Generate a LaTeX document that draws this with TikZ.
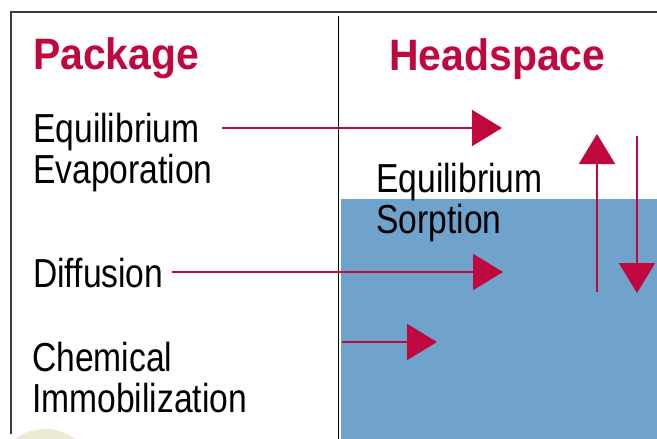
\documentclass[tikz,border=0pt]{standalone}
\usepackage{fontspec}
\usetikzlibrary{arrows.meta}
\newfontfamily\bodyfont{Liberation Sans}[FakeStretch=0.83]
\newfontfamily\headfont{Liberation Sans}[FakeStretch=0.93]
\definecolor{crim}{RGB}{192,8,62}
\definecolor{liquid}{RGB}{111,163,204}
\definecolor{framegray}{RGB}{60,60,60}
\definecolor{paleolive}{RGB}{236,234,212}
\tikzset{
  bodytext/.style={inner sep=0pt, anchor=base west, align=left, text=black,
    font=\bodyfont\fontsize{40.5}{41}\selectfont},
  headtext/.style={inner sep=0pt, anchor=base west, text=crim,
    font=\headfont\bfseries\fontsize{44}{44}\selectfont},
  arr/.style={draw=crim, line width=2pt, -{Triangle[length=30pt,width=36pt]}}
}
\begin{document}
\begin{tikzpicture}[x=1pt,y=-1pt]
\useasboundingbox (0,0) rectangle (657,439);
\clip (0,0) rectangle (657,439);
% pale shape at bottom left
\fill[paleolive] (45,480) circle (51);
% liquid
\fill[liquid] (341,199) rectangle (657,439);
% frame
\draw[framegray, line width=2pt] (11,434) -- (11,12) -- (657,12);
\draw[black, line width=1.3pt] (338.5,16) -- (338.5,439);
% headings
\node[headtext] (pkg) at (33,69) {Package};
\node[headtext] (hs) at (389,70) {Headspace};
% labels (base anchor = baseline of the last line)
\node[bodytext] (eqev) at (33,183) {Equilibrium\\Evaporation};
\node[bodytext] (diff) at (33,287) {Diffusion};
\node[bodytext] (chem) at (32,412) {Chemical\\Immobilization};
\node[bodytext] (eqso) at (376,233) {Equilibrium\\Sorption};
% arrow end points
\coordinate (eqS) at (222,128);
\coordinate (eqT) at (502,128);
\coordinate (dfS) at (172,272);
\coordinate (dfT) at (503,272);
\coordinate (chS) at (342,342);
\coordinate (chT) at (437,342);
\coordinate (upS) at (597,292);
\coordinate (upT) at (597,134);
\coordinate (dnS) at (637,136);
\coordinate (dnT) at (637,293);
\draw[arr] (eqS) -- (eqT);
\draw[arr] (dfS) -- (dfT);
\draw[arr] (chS) -- (chT);
\draw[arr] (upS) -- (upT);
\draw[arr] (dnS) -- (dnT);
\end{tikzpicture}
\end{document}
